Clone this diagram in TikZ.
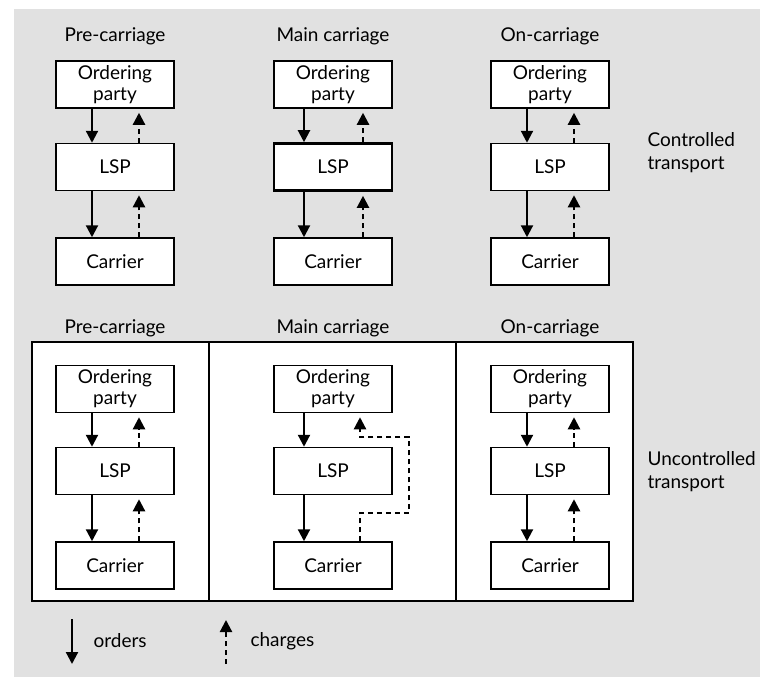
\documentclass[tikz,border=0pt]{standalone}
\usepackage{fontspec}
\setmainfont{Lato}
\usetikzlibrary{arrows.meta}
\definecolor{panelgray}{HTML}{E1E1E1}
\begin{document}
\begin{tikzpicture}[x=1pt,y=-1pt,
  every node/.style={font=\fontsize{19}{21}\selectfont},
  party/.style={draw, line width=1.5pt, fill=white, minimum width=118pt, minimum height=47pt, inner sep=0pt, align=center},
  title/.style={anchor=center},
  order/.style={line width=2.2pt, -{Triangle[width=12pt,length=12pt]}},
  charge/.style={line width=2.2pt, dash pattern=on 5pt off 4pt, -{Triangle[width=12pt,length=12pt]}},
  side/.style={align=left, anchor=west, font=\fontsize{19}{23}\selectfont}]
\useasboundingbox (0,0) rectangle (760,677);
\fill[panelgray] (14,9) rectangle (760,677);

% frame around the uncontrolled chains
\draw[line width=1.5pt, fill=white] (32,342) rectangle (633,601);
\draw[line width=1.5pt] (209,342) -- (209,601);
\draw[line width=1.5pt] (456,342) -- (456,601);

% column headings
\node[title] (t1) at (115,36) {Pre-carriage};
\node[title] (t2) at (333,36) {Main carriage};
\node[title] (t3) at (550,36) {On-carriage};
\node[title] (b1) at (115,328) {Pre-carriage};
\node[title] (b2) at (333,328) {Main carriage};
\node[title] (b3) at (550,328) {On-carriage};

% controlled transport: three chains
\foreach \n/\cx/\so/\ch/\lw in {a/115/-23/24/1.5, b/333/-29/30/2.6, c/550/-23/24/1.5}{
  \node[party] (\n o) at (\cx,84.5) {Ordering\\party};
  \node[party, line width=\lw pt] (\n l) at (\cx,167) {LSP};
  \node[party] (\n c) at (\cx,261.5) {Carrier};
  \draw[order] ([xshift=\so pt]\n o.south) -- ([xshift=\so pt]\n l.north);
  \draw[order] ([xshift=\so pt]\n l.south) -- ([xshift=\so pt]\n c.north);
  \draw[charge] ([xshift=\ch pt]\n l.north) -- ([xshift=\ch pt,yshift=-4pt]\n o.south);
  \draw[charge] ([xshift=\ch pt]\n c.north) -- ([xshift=\ch pt,yshift=-4pt]\n l.south);
}

% uncontrolled transport: three chains
\foreach \n/\cx/\so/\ch in {d/115/-23/24, e/333/-29/27, f/550/-23/24}{
  \node[party] (\n o) at (\cx,389) {Ordering\\party};
  \node[party] (\n l) at (\cx,471) {LSP};
  \node[party] (\n c) at (\cx,565.5) {Carrier};
  \draw[order] ([xshift=\so pt]\n o.south) -- ([xshift=\so pt]\n l.north);
  \draw[order] ([xshift=\so pt]\n l.south) -- ([xshift=\so pt]\n c.north);
}
\draw[charge] ([xshift=24pt]dl.north) -- ([xshift=24pt,yshift=-4pt]do.south);
\draw[charge] ([xshift=24pt]dc.north) -- ([xshift=24pt,yshift=-4pt]dl.south);
\draw[charge] ([xshift=24pt]fl.north) -- ([xshift=24pt,yshift=-4pt]fo.south);
\draw[charge] ([xshift=24pt]fc.north) -- ([xshift=24pt,yshift=-4pt]fl.south);

% charges bypass the LSP in the main carriage
\coordinate (r1) at (409,513);
\coordinate (r2) at (409,437);
\draw[charge] ([xshift=27pt]ec.north) |- (r1) -- (r2) -| ([xshift=27pt,yshift=-4pt]eo.south);

% row labels
\node[side] (lc) at (644,153) {Controlled\\transport};
\node[side] (lu) at (644,471.5) {Uncontrolled\\transport};

% legend
\coordinate (o1) at (72,619);
\coordinate (o2) at (72,664);
\coordinate (c1) at (226,664);
\coordinate (c2) at (226,620);
\draw[order] (o1) -- (o2);
\draw[charge] (c1) -- (c2);
\node[anchor=west] (lo) at (90,641) {orders};
\node[anchor=west] (lch) at (247,641) {charges};
\end{tikzpicture}
\end{document}
